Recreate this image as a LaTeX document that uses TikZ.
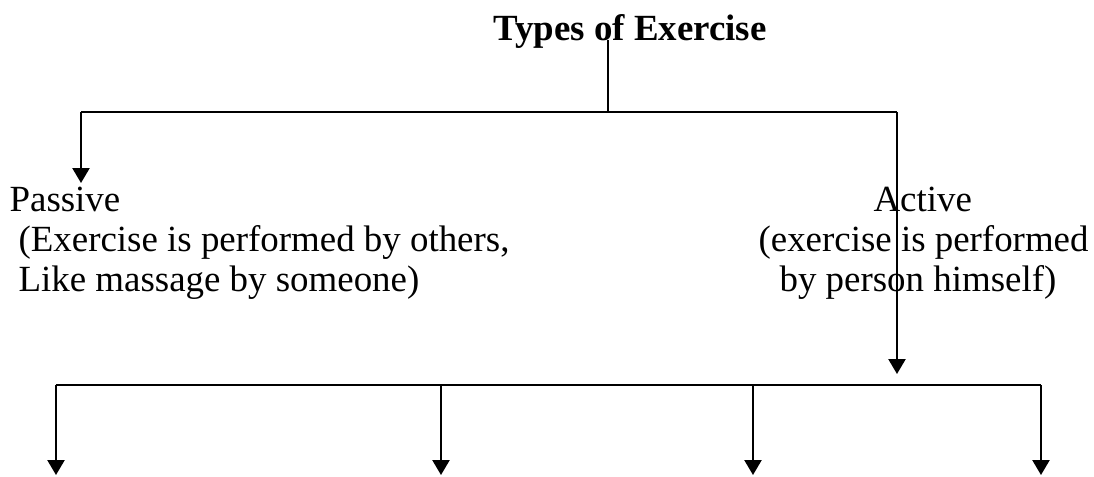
\documentclass[tikz,border=0pt]{standalone}
\usepackage{fontspec}
\setmainfont{Liberation Serif}
\usetikzlibrary{arrows.meta}
\tikzset{
  heading/.style={
    anchor = base,
    inner sep = 0pt,
    font = \fontsize{12.3}{14}\selectfont\bfseries
  },
  txt/.style={
    anchor = base west,
    inner sep = 0pt,
    font = \fontsize{12.3}{14}\selectfont
  },
  conn/.style={
    line width = 0.7pt
  },
  arr/.style={
    line width = 0.7pt,
    -{Triangle[width=5.7pt,length=5pt]}
  }
}

\begin{document}
\begin{tikzpicture}[x=0.3333pt,y=-0.3333pt]
            \useasboundingbox (0,0) rectangle (1094,476);
            \node[heading] (title) at (630,40) {Types of Exercise};
            % passive branch
            \node[txt] (pas1) at (9,211) {Passive};
            \node[txt] (pas2) at (18,251) {(Exercise is performed by others,};
            \node[txt] (pas3) at (18,291) {Like massage by someone)};
            % active branch
            \node[txt] (act1) at (873,211) {Active};
            \node[txt] (act2) at (758,251) {(exercise is performed};
            \node[txt] (act3) at (779,291) {by person himself)};
            \coordinate (top) at (608,40);
            \coordinate (split) at (608,112);
            \coordinate (pl) at (81,112);
            \coordinate (pr) at (897,112);
            \coordinate (pasin) at (81,183);
            \coordinate (actin) at (897,374);
            \draw[conn] (top) -- (split);
            \draw[conn] (pl) -- (pr);
            \draw[arr] (pl) -- (pasin);
            \draw[arr] (pr) -- (actin);
            \coordinate (bl) at (56,385);
            \coordinate (br) at (1041,385);
            \draw[conn] (bl) -- (br);
            \foreach \x [count=\i] in {56,441,753,1041}{
                    \coordinate (b\i) at (\x,385);
                    \coordinate (e\i) at (\x,475);
                    \draw[arr] (b\i) -- (e\i);
                }
        \end{tikzpicture}
\end{document}
